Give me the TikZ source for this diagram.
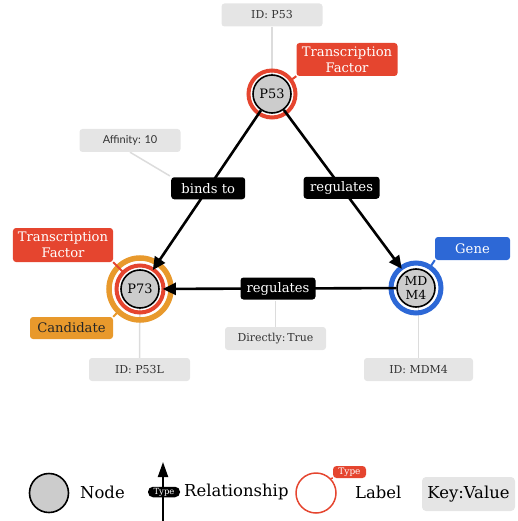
\documentclass[tikz,border=0pt]{standalone}
\usepackage{fontspec}
\setmainfont{DejaVu Serif}
\newfontfamily\propsans{Lato}
\usetikzlibrary{arrows.meta,calc,backgrounds}

\definecolor{tfred}{HTML}{E5452F}
\definecolor{candorange}{HTML}{E8992C}
\definecolor{geneblue}{HTML}{2D68D6}
\definecolor{nodegray}{HTML}{CCCCCC}
\definecolor{propgray}{HTML}{E5E5E5}
\definecolor{proptext}{HTML}{333333}
\definecolor{linegray}{HTML}{DCDCDC}

\tikzset{
  gnode/.style={circle, draw=black, line width=1.6bp, fill=nodegray,
    minimum size=38bp, inner sep=0pt, align=center,
    font=\fontsize{13}{12}\selectfont},
  tagbox/.style={rounded corners=3bp, inner sep=0pt, text=white, align=center,
    font=\fontsize{13.2}{16}\selectfont},
  relbox/.style={fill=black, text=white, rounded corners=3bp, inner sep=0pt,
    minimum height=22bp, font=\fontsize{13.2}{14}\selectfont},
  propbox/.style={fill=propgray, text=proptext, rounded corners=3bp, inner sep=0pt,
    minimum height=23bp, minimum width=101bp, font=\fontsize{11}{12}\selectfont},
  rel/.style={line width=2.6bp, -{Triangle[length=13bp,width=12bp]}},
  propl/.style={draw=linegray, line width=1.5bp},
  legendtext/.style={inner sep=0pt, font=\fontsize{16.5}{17}\selectfont},
}

\begin{document}
\begin{tikzpicture}[x=1bp,y=-1bp]
\useasboundingbox (0,0) rectangle (518,521);

% graph nodes
\node[gnode] (p53) at (272,94) {P53};
\node[gnode] (p73) at (140,289) {P73};
\node[gnode, font=\fontsize{12.5}{14}\selectfont] (mdm4) at (416,288) {MD\\M4};

% label rings
\draw[tfred, line width=4bp] (p53.center) circle[radius=23.5];
\draw[tfred, line width=4bp] (p73.center) circle[radius=23.5];
\draw[candorange, line width=5.5bp] (p73.center) circle[radius=31];
\draw[geneblue, line width=5bp] (mdm4.center) circle[radius=25];

% label tags
\node[tagbox, fill=tfred, minimum width=101bp, minimum height=33bp] (tf1) at (347,59.5) {Transcription\\Factor};
\node[tagbox, fill=tfred, minimum width=100bp, minimum height=34bp] (tf2) at (63,245) {Transcription\\Factor};
\node[tagbox, fill=candorange, text=black!85, minimum width=83bp, minimum height=22bp] (cand) at (71.5,328) {Candidate};
\node[tagbox, fill=geneblue, minimum width=75bp, minimum height=23bp] (gene) at (472.5,248.5) {Gene};

\draw[tfred, line width=2bp] ($(p53.center)!23.5bp!(tf1.south west)$) -- (tf1.south west);
\draw[tfred, line width=2bp] ($(p73.center)!23.5bp!(tf2.south east)$) -- (tf2.south east);
\draw[candorange, line width=2bp] ($(p73.center)!31bp!(cand.north east)$) -- (cand.north east);
\draw[geneblue, line width=2bp] ($(mdm4.center)!25bp!(gene.south west)$) -- (gene.south west);

% relationships
\draw[rel, shorten >=3bp] (p53) -- node[relbox, pos=0.48, minimum width=74bp] (e1) {binds to} (p73);
\draw[rel, shorten >=4bp] (p53) -- node[relbox, pos=0.48, minimum width=76bp] (e2) {regulates} (mdm4);
\draw[rel, shorten >=3bp] (mdm4) -- node[relbox, pos=0.5, minimum width=75bp] (e3) {regulates} (p73);

% properties
\node[propbox] (pr1) at (272,15) {ID: P53};
\node[propbox, font=\propsans\fontsize{11}{12}\selectfont] (pr2) at (130,140.5) {Affinity: 10};
\node[propbox] (pr3) at (139.5,369.5) {ID: P53L};
\node[propbox] (pr4) at (275.5,338.5) {Directly:\,True};
\node[propbox, minimum width=109bp] (pr5) at (418.5,369.5) {ID: MDM4};

\begin{pgfonlayer}{background}
  \draw[propl] (pr1.south) -- (p53.center);
  \draw[propl] (pr2.south) -- (e1.north west);
  \draw[propl] (pr3.north) -- (p73.center);
  \draw[propl] (pr4.north) -- (pr4.north |- e3.south);
  \draw[propl] (pr5.north) -- (pr5.north |- mdm4.center);
\end{pgfonlayer}

% legend
\node[gnode, minimum size=39bp] (lgnode) at (49,493) {};
\node[legendtext, anchor=west] (lgnodetxt) at (80,492) {Node};

\coordinate (lgrelbot) at (163,521);
\coordinate (lgreltop) at (163,462);
\draw[line width=2bp, -{Triangle[length=15bp,width=10bp]}] (lgrelbot) -- (lgreltop);
\node[fill=black, text=white, rounded corners=5bp, inner sep=0pt, minimum width=32bp,
  minimum height=10.5bp, font=\fontsize{8.5}{9}\selectfont] (lgtype) at (164,492) {Type};
\node[legendtext, anchor=west] (lgreltxt) at (184,492) {Relationship};

\node[circle, draw=tfred, line width=1.5bp, minimum size=40bp, inner sep=0pt] (lglabel) at (316,493) {};
\node[fill=tfred, text=white, rounded corners=3.5bp, inner sep=0pt, minimum width=33bp,
  minimum height=12bp, font=\fontsize{9}{10}\selectfont] (lgltag) at (349.5,472) {Type};
\draw[tfred, line width=1.5bp] (lglabel.north east) -- (lgltag.south west);
\node[legendtext, anchor=west] (lglabeltxt) at (355,492) {Label};

\node[fill=propgray, rounded corners=4bp, inner sep=0pt, minimum width=93bp, minimum height=34bp,
  font=\fontsize{16.5}{17}\selectfont] (lgkv) at (468.5,494) {Key:Value};
\end{tikzpicture}
\end{document}
